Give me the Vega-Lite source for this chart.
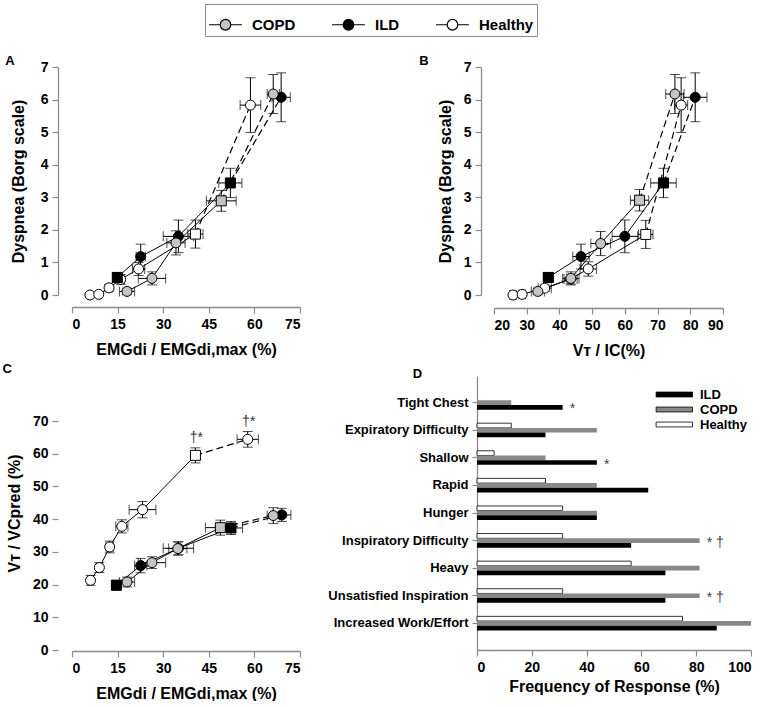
{
  "$schema": "https://vega.github.io/schema/vega-lite/v6.json",
  "padding": {"left": 2, "top": 3, "right": 0, "bottom": 0},
  "background": "white",
  "datasets": {
    "A": [
      {"group": "Healthy", "stage": "ex", "infl": "no", "x": 5.9, "xerr": 0.5, "y": 0.0, "yerr": 0.03},
      {"group": "Healthy", "stage": "ex", "infl": "no", "x": 8.8, "xerr": 0.5, "y": 0.02, "yerr": 0.03},
      {"group": "Healthy", "stage": "ex", "infl": "no", "x": 12.2, "xerr": 1.0, "y": 0.22, "yerr": 0.1},
      {"group": "Healthy", "stage": "ex", "infl": "no", "x": 16.0, "xerr": 1.2, "y": 0.48, "yerr": 0.15},
      {"group": "Healthy", "stage": "ex", "infl": "no", "x": 21.9, "xerr": 2.0, "y": 0.8, "yerr": 0.2},
      {"group": "Healthy", "stage": "iso", "infl": "yes", "x": 40.6, "xerr": 2.5, "y": 1.87, "yerr": 0.43},
      {"group": "Healthy", "stage": "peak", "infl": "no", "x": 58.7, "xerr": 3.4, "y": 5.83, "yerr": 0.84},
      {"group": "ILD", "stage": "ex", "infl": "yes", "x": 14.9, "xerr": 1.5, "y": 0.54, "yerr": 0.15},
      {"group": "ILD", "stage": "ex", "infl": "no", "x": 22.6, "xerr": 1.5, "y": 1.18, "yerr": 0.38},
      {"group": "ILD", "stage": "ex", "infl": "no", "x": 35.0, "xerr": 5.0, "y": 1.8, "yerr": 0.5},
      {"group": "ILD", "stage": "iso", "infl": "yes", "x": 52.1, "xerr": 3.8, "y": 3.44, "yerr": 0.45},
      {"group": "ILD", "stage": "peak", "infl": "no", "x": 68.8, "xerr": 3.0, "y": 6.07, "yerr": 0.75},
      {"group": "COPD", "stage": "ex", "infl": "no", "x": 18.1, "xerr": 2.5, "y": 0.11, "yerr": 0.1},
      {"group": "COPD", "stage": "ex", "infl": "no", "x": 26.3, "xerr": 4.5, "y": 0.51, "yerr": 0.2},
      {"group": "COPD", "stage": "ex", "infl": "no", "x": 34.2, "xerr": 3.0, "y": 1.6, "yerr": 0.37},
      {"group": "COPD", "stage": "iso", "infl": "yes", "x": 49.1, "xerr": 4.9, "y": 2.89, "yerr": 0.32},
      {"group": "COPD", "stage": "peak", "infl": "no", "x": 66.2, "xerr": 2.0, "y": 6.17, "yerr": 0.6}
    ],
    "B": [
      {"group": "Healthy", "stage": "ex", "infl": "no", "x": 25.8, "xerr": 1.0, "y": 0.0, "yerr": 0.03},
      {"group": "Healthy", "stage": "ex", "infl": "no", "x": 28.6, "xerr": 1.0, "y": 0.02, "yerr": 0.03},
      {"group": "Healthy", "stage": "ex", "infl": "no", "x": 35.5, "xerr": 2.0, "y": 0.21, "yerr": 0.1},
      {"group": "Healthy", "stage": "ex", "infl": "no", "x": 43.4, "xerr": 2.0, "y": 0.49, "yerr": 0.15},
      {"group": "Healthy", "stage": "ex", "infl": "no", "x": 48.8, "xerr": 2.5, "y": 0.8, "yerr": 0.22},
      {"group": "Healthy", "stage": "iso", "infl": "yes", "x": 66.4, "xerr": 2.2, "y": 1.86, "yerr": 0.43},
      {"group": "Healthy", "stage": "peak", "infl": "no", "x": 77.2, "xerr": 2.0, "y": 5.83, "yerr": 0.84},
      {"group": "ILD", "stage": "ex", "infl": "yes", "x": 36.6, "xerr": 1.5, "y": 0.54, "yerr": 0.15},
      {"group": "ILD", "stage": "ex", "infl": "no", "x": 46.6, "xerr": 2.5, "y": 1.18, "yerr": 0.38},
      {"group": "ILD", "stage": "ex", "infl": "no", "x": 60.0, "xerr": 3.9, "y": 1.8, "yerr": 0.5},
      {"group": "ILD", "stage": "iso", "infl": "yes", "x": 71.8, "xerr": 3.9, "y": 3.44, "yerr": 0.45},
      {"group": "ILD", "stage": "peak", "infl": "no", "x": 81.5, "xerr": 3.6, "y": 6.07, "yerr": 0.75},
      {"group": "COPD", "stage": "ex", "infl": "no", "x": 33.4, "xerr": 2.0, "y": 0.11, "yerr": 0.1},
      {"group": "COPD", "stage": "ex", "infl": "no", "x": 43.5, "xerr": 2.5, "y": 0.51, "yerr": 0.2},
      {"group": "COPD", "stage": "ex", "infl": "no", "x": 52.6, "xerr": 3.0, "y": 1.58, "yerr": 0.37},
      {"group": "COPD", "stage": "iso", "infl": "yes", "x": 64.5, "xerr": 2.8, "y": 2.91, "yerr": 0.33},
      {"group": "COPD", "stage": "peak", "infl": "no", "x": 75.3, "xerr": 2.8, "y": 6.17, "yerr": 0.6}
    ],
    "C": [
      {"group": "Healthy", "stage": "ex", "infl": "no", "x": 6.1, "xerr": 0.8, "y": 21.3, "yerr": 1.5},
      {"group": "Healthy", "stage": "ex", "infl": "no", "x": 9.0, "xerr": 1.0, "y": 25.2, "yerr": 1.5},
      {"group": "Healthy", "stage": "ex", "infl": "no", "x": 12.4, "xerr": 1.2, "y": 31.5, "yerr": 1.8},
      {"group": "Healthy", "stage": "ex", "infl": "no", "x": 16.4, "xerr": 2.0, "y": 37.8, "yerr": 2.0},
      {"group": "Healthy", "stage": "ex", "infl": "no", "x": 23.2, "xerr": 4.4, "y": 42.9, "yerr": 2.5},
      {"group": "Healthy", "stage": "iso", "infl": "yes", "x": 40.6, "xerr": 1.5, "y": 59.5, "yerr": 2.3, "sig": "†*"},
      {"group": "Healthy", "stage": "peak", "infl": "no", "x": 57.8, "xerr": 3.5, "y": 64.4, "yerr": 2.4, "sig": "†*"},
      {"group": "ILD", "stage": "ex", "infl": "yes", "x": 14.6, "xerr": 1.5, "y": 19.8, "yerr": 1.5},
      {"group": "ILD", "stage": "ex", "infl": "no", "x": 22.6, "xerr": 2.0, "y": 25.8, "yerr": 2.2},
      {"group": "ILD", "stage": "ex", "infl": "no", "x": 35.0, "xerr": 5.0, "y": 31.1, "yerr": 2.0},
      {"group": "ILD", "stage": "iso", "infl": "yes", "x": 52.3, "xerr": 3.8, "y": 37.3, "yerr": 2.0},
      {"group": "ILD", "stage": "peak", "infl": "no", "x": 69.0, "xerr": 3.0, "y": 41.3, "yerr": 2.0},
      {"group": "COPD", "stage": "ex", "infl": "no", "x": 18.1, "xerr": 2.5, "y": 20.8, "yerr": 1.5},
      {"group": "COPD", "stage": "ex", "infl": "no", "x": 26.3, "xerr": 4.5, "y": 26.7, "yerr": 1.8},
      {"group": "COPD", "stage": "ex", "infl": "no", "x": 34.8, "xerr": 3.0, "y": 31.0, "yerr": 2.0},
      {"group": "COPD", "stage": "iso", "infl": "yes", "x": 48.8, "xerr": 4.9, "y": 37.4, "yerr": 2.3},
      {"group": "COPD", "stage": "peak", "infl": "no", "x": 66.2, "xerr": 2.0, "y": 41.1, "yerr": 2.4}
    ],
    "D": [
      {"descriptor": "Tight Chest", "group": "Healthy", "freq": 0},
      {"descriptor": "Tight Chest", "group": "COPD", "freq": 12.5},
      {"descriptor": "Tight Chest", "group": "ILD", "freq": 31.25, "sig": "*"},
      {"descriptor": "Expiratory Difficulty", "group": "Healthy", "freq": 12.5},
      {"descriptor": "Expiratory Difficulty", "group": "COPD", "freq": 43.75},
      {"descriptor": "Expiratory Difficulty", "group": "ILD", "freq": 25},
      {"descriptor": "Shallow", "group": "Healthy", "freq": 6.25},
      {"descriptor": "Shallow", "group": "COPD", "freq": 25},
      {"descriptor": "Shallow", "group": "ILD", "freq": 43.75, "sig": "*"},
      {"descriptor": "Rapid", "group": "Healthy", "freq": 25},
      {"descriptor": "Rapid", "group": "COPD", "freq": 43.75},
      {"descriptor": "Rapid", "group": "ILD", "freq": 62.5},
      {"descriptor": "Hunger", "group": "Healthy", "freq": 31.25},
      {"descriptor": "Hunger", "group": "COPD", "freq": 43.75},
      {"descriptor": "Hunger", "group": "ILD", "freq": 43.75},
      {"descriptor": "Inspiratory Difficulty", "group": "Healthy", "freq": 31.25},
      {"descriptor": "Inspiratory Difficulty", "group": "COPD", "freq": 81.25, "sig": "* †"},
      {"descriptor": "Inspiratory Difficulty", "group": "ILD", "freq": 56.25},
      {"descriptor": "Heavy", "group": "Healthy", "freq": 56.25},
      {"descriptor": "Heavy", "group": "COPD", "freq": 81.25},
      {"descriptor": "Heavy", "group": "ILD", "freq": 68.75},
      {"descriptor": "Unsatisfied Inspiration", "group": "Healthy", "freq": 31.25},
      {"descriptor": "Unsatisfied Inspiration", "group": "COPD", "freq": 81.25, "sig": "* †"},
      {"descriptor": "Unsatisfied Inspiration", "group": "ILD", "freq": 68.75},
      {"descriptor": "Increased Work/Effort", "group": "Healthy", "freq": 75},
      {"descriptor": "Increased Work/Effort", "group": "COPD", "freq": 100},
      {"descriptor": "Increased Work/Effort", "group": "ILD", "freq": 87.5}
    ]
  },
  "spacing": 5,
  "resolve": {"scale": {"color": "independent"}},
  "vconcat": [
    {
      "spacing": 118,
      "hconcat": [
        {
          "width": 228, "height": 228,
          "title": {"text": "A", "anchor": "start", "frame": "bounds", "fontSize": 13, "fontWeight": "bold", "baseline": "alphabetic", "offset": -18, "dx": -5},
          "data": {"name": "A"},
          "encoding": {
            "x": {"field": "x", "type": "quantitative", "scale": {"domain": [0, 75], "nice": false, "zero": false}, "axis": {"values": [0, 15, 30, 45, 60, 75], "offset": 12, "title": "EMGdi / EMGdi,max (%)"}},
            "y": {"field": "y", "type": "quantitative", "scale": {"domain": [0, 7], "nice": false}, "axis": {"values": [0, 1, 2, 3, 4, 5, 6, 7], "offset": 14, "titlePadding": 14, "title": "Dyspnea (Borg scale)"}}
          },
          "layer": [
            {"transform": [{"filter": "datum.stage !== 'peak'"}], "mark": {"type": "line", "color": "black", "strokeWidth": 1}, "encoding": {"detail": {"field": "group"}}},
            {"transform": [{"filter": "datum.stage !== 'ex'"}], "mark": {"type": "line", "color": "black", "strokeWidth": 1.2, "strokeDash": [7, 4]}, "encoding": {"detail": {"field": "group"}}},
            {"mark": {"type": "errorbar", "color": "black", "thickness": 1, "ticks": {"size": 10, "thickness": 1, "color": "black"}}, "encoding": {"xError": {"field": "xerr"}}},
            {"mark": {"type": "errorbar", "color": "black", "thickness": 1, "ticks": {"size": 10, "thickness": 1, "color": "black"}}, "encoding": {"yError": {"field": "yerr"}}},
            {"mark": {"type": "point", "filled": true, "stroke": "black", "strokeWidth": 1, "size": 100, "opacity": 1},
             "encoding": {
               "fill": {"field": "group", "type": "nominal", "scale": {"domain": ["COPD", "ILD", "Healthy"], "range": ["#c4c4c4", "#000000", "#ffffff"]},
                        "legend": {"orient": "none", "legendX": 133, "legendY": -63, "direction": "horizontal", "title": null, "strokeColor": "#8c8c8c", "padding": 3, "columnPadding": 33, "labelFontSize": 15, "labelFontWeight": "bold", "labelOffset": 9, "symbolType": "M-1,0H-0.32M0.32,0H1M-0.32,0A0.32,0.32,0,1,1,0.32,0A0.32,0.32,0,1,1,-0.32,0Z", "symbolSize": 1089, "symbolStrokeColor": "black", "symbolStrokeWidth": 1.2}},
               "shape": {"field": "infl", "type": "nominal", "scale": {"domain": ["no", "yes"], "range": ["circle", "square"]}, "legend": null}
             }}
          ]
        },
        {
          "width": 229, "height": 228,
          "title": {"text": "B", "anchor": "start", "frame": "bounds", "fontSize": 13, "fontWeight": "bold", "baseline": "alphabetic", "offset": -18, "dx": -18},
          "data": {"name": "B"},
          "encoding": {
            "x": {"field": "x", "type": "quantitative", "scale": {"domain": [20, 90], "nice": false, "zero": false}, "axis": {"values": [20, 30, 40, 50, 60, 70, 80, 90], "offset": 13, "title": "Vᴛ / IC(%)"}},
            "y": {"field": "y", "type": "quantitative", "scale": {"domain": [0, 7], "nice": false}, "axis": {"values": [0, 1, 2, 3, 4, 5, 6, 7], "offset": 13, "title": "Dyspnea (Borg scale)"}}
          },
          "layer": [
            {"transform": [{"filter": "datum.stage !== 'peak'"}], "mark": {"type": "line", "color": "black", "strokeWidth": 1}, "encoding": {"detail": {"field": "group"}}},
            {"transform": [{"filter": "datum.stage !== 'ex'"}], "mark": {"type": "line", "color": "black", "strokeWidth": 1.2, "strokeDash": [7, 4]}, "encoding": {"detail": {"field": "group"}}},
            {"mark": {"type": "errorbar", "color": "black", "thickness": 1, "ticks": {"size": 10, "thickness": 1, "color": "black"}}, "encoding": {"xError": {"field": "xerr"}}},
            {"mark": {"type": "errorbar", "color": "black", "thickness": 1, "ticks": {"size": 10, "thickness": 1, "color": "black"}}, "encoding": {"yError": {"field": "yerr"}}},
            {"mark": {"type": "point", "filled": true, "stroke": "black", "strokeWidth": 1, "size": 100, "opacity": 1},
             "encoding": {
               "fill": {"field": "group", "type": "nominal", "scale": {"domain": ["COPD", "ILD", "Healthy"], "range": ["#c4c4c4", "#000000", "#ffffff"]},
                        "legend": {"orient": "none", "legendX": 133, "legendY": -63, "direction": "horizontal", "title": null, "strokeColor": "#8c8c8c", "padding": 3, "columnPadding": 33, "labelFontSize": 15, "labelFontWeight": "bold", "labelOffset": 9, "symbolType": "M-1,0H-0.32M0.32,0H1M-0.32,0A0.32,0.32,0,1,1,0.32,0A0.32,0.32,0,1,1,-0.32,0Z", "symbolSize": 1089, "symbolStrokeColor": "black", "symbolStrokeWidth": 1.2}},
               "shape": {"field": "infl", "type": "nominal", "scale": {"domain": ["no", "yes"], "range": ["circle", "square"]}, "legend": null}
             }}
          ]
        }
      ]
    },
    {
      "spacing": 26,
      "resolve": {"scale": {"color": "independent"}},
      "hconcat": [
        {
          "width": 228, "height": 274,
          "title": {"text": "C", "anchor": "start", "frame": "bounds", "fontSize": 13, "fontWeight": "bold", "baseline": "alphabetic", "offset": -10, "dx": -4},
          "data": {"name": "C"},
          "encoding": {
            "x": {"field": "x", "type": "quantitative", "scale": {"domain": [0, 75], "nice": false, "zero": false}, "axis": {"values": [0, 15, 30, 45, 60, 75], "offset": 1, "title": "EMGdi / EMGdi,max (%)"}},
            "y": {"field": "y", "type": "quantitative", "scale": {"domain": [0, 83.76], "nice": false}, "axis": {"values": [0, 10, 20, 30, 40, 50, 60, 70], "offset": 14, "domain": false, "title": "Vᴛ / VCpred (%)"}}
          },
          "layer": [
            {"data": {"values": [{"axis": "y"}]}, "mark": {"type": "rule", "color": "#8a8a8a", "strokeWidth": 1.3, "xOffset": -14}, "encoding": {"x": {"datum": 0}, "y": {"datum": 0}, "y2": {"datum": 70}}},
            {"transform": [{"filter": "datum.stage !== 'peak'"}], "mark": {"type": "line", "color": "black", "strokeWidth": 1}, "encoding": {"detail": {"field": "group"}}},
            {"transform": [{"filter": "datum.stage !== 'ex'"}], "mark": {"type": "line", "color": "black", "strokeWidth": 1.2, "strokeDash": [7, 4]}, "encoding": {"detail": {"field": "group"}}},
            {"mark": {"type": "errorbar", "color": "black", "thickness": 1, "ticks": {"size": 10, "thickness": 1, "color": "black"}}, "encoding": {"xError": {"field": "xerr"}}},
            {"mark": {"type": "errorbar", "color": "black", "thickness": 1, "ticks": {"size": 10, "thickness": 1, "color": "black"}}, "encoding": {"yError": {"field": "yerr"}}},
            {"mark": {"type": "point", "filled": true, "stroke": "black", "strokeWidth": 1, "size": 100, "opacity": 1},
             "encoding": {
               "fill": {"field": "group", "type": "nominal", "scale": {"domain": ["COPD", "ILD", "Healthy"], "range": ["#c4c4c4", "#000000", "#ffffff"]},
                        "legend": {"orient": "none", "legendX": 133, "legendY": -63, "direction": "horizontal", "title": null, "strokeColor": "#8c8c8c", "padding": 3, "columnPadding": 33, "labelFontSize": 15, "labelFontWeight": "bold", "labelOffset": 9, "symbolType": "M-1,0H-0.32M0.32,0H1M-0.32,0A0.32,0.32,0,1,1,0.32,0A0.32,0.32,0,1,1,-0.32,0Z", "symbolSize": 1089, "symbolStrokeColor": "black", "symbolStrokeWidth": 1.2}},
               "shape": {"field": "infl", "type": "nominal", "scale": {"domain": ["no", "yes"], "range": ["circle", "square"]}, "legend": null}
             }},
            {"transform": [{"filter": "datum.sig"}], "mark": {"type": "text", "dy": -17, "dx": 1, "fontSize": 14, "color": "#333333"}, "encoding": {"text": {"field": "sig"}}}
          ]
        },
        {
          "width": 274, "height": 274,
          "title": {"text": "D", "anchor": "start", "frame": "bounds", "fontSize": 13, "fontWeight": "bold", "baseline": "alphabetic", "offset": -15, "dx": 85},
          "data": {"name": "D"},
          "encoding": {
            "y": {"field": "descriptor", "type": "nominal", "sort": ["Tight Chest", "Expiratory Difficulty", "Shallow", "Rapid", "Hunger", "Inspiratory Difficulty", "Heavy", "Unsatisfied Inspiration", "Increased Work/Effort"], "scale": {"paddingInner": 0.49, "paddingOuter": 0.71}, "axis": {"title": null, "labelFontSize": 13, "labelPadding": 4, "tickSize": 5}},
            "yOffset": {"field": "group", "sort": ["Healthy", "COPD", "ILD"]},
            "x": {"field": "freq", "type": "quantitative", "scale": {"domain": [0, 100], "nice": false}, "axis": {"values": [0, 20, 40, 60, 80, 100], "title": "Frequency of Response (%)", "titlePadding": 4, "labelPadding": 4}}
          },
          "layer": [
            {"mark": {"type": "bar", "stroke": "black"},
             "encoding": {
               "color": {"field": "group", "type": "nominal", "scale": {"domain": ["ILD", "COPD", "Healthy"], "range": ["#000000", "#888888", "#ffffff"]},
                         "legend": {"orient": "none", "legendX": 201, "legendY": 11, "title": null, "labelFontSize": 13, "labelFontWeight": "bold", "labelOffset": 7, "symbolType": "M-4.2,-0.35H1V0.35H-4.2Z", "symbolSize": 196, "symbolStrokeColor": "black", "symbolStrokeWidth": 0.8, "rowPadding": 0, "padding": 0}},
               "strokeWidth": {"condition": {"test": "datum.group === 'Healthy' && datum.freq > 0", "value": 0.8}, "value": 0}
             }},
            {"transform": [{"filter": "datum.sig"}], "mark": {"type": "text", "align": "left", "dx": 7, "dy": 2, "fontSize": 14, "color": "#444444"}, "encoding": {"text": {"field": "sig"}}}
          ]
        }
      ]
    }
  ],
  "config": {
    "font": "Liberation Sans",
    "view": {"stroke": null},
    "title": {"font": "Liberation Sans", "color": "black"},
    "axis": {
      "grid": false,
      "domainColor": "#8a8a8a",
      "domainWidth": 1.3,
      "tickColor": "#8a8a8a",
      "tickWidth": 1.2,
      "tickSize": 6,
      "labelFont": "Liberation Sans",
      "labelFontSize": 14,
      "labelFontWeight": "bold",
      "labelColor": "black",
      "labelPadding": 4,
      "titleFont": "Liberation Sans",
      "titleFontSize": 16,
      "titleFontWeight": "bold",
      "titleColor": "black",
      "titlePadding": 10
    },
    "legend": {"labelFont": "Liberation Sans", "labelColor": "black"}
  }
}
